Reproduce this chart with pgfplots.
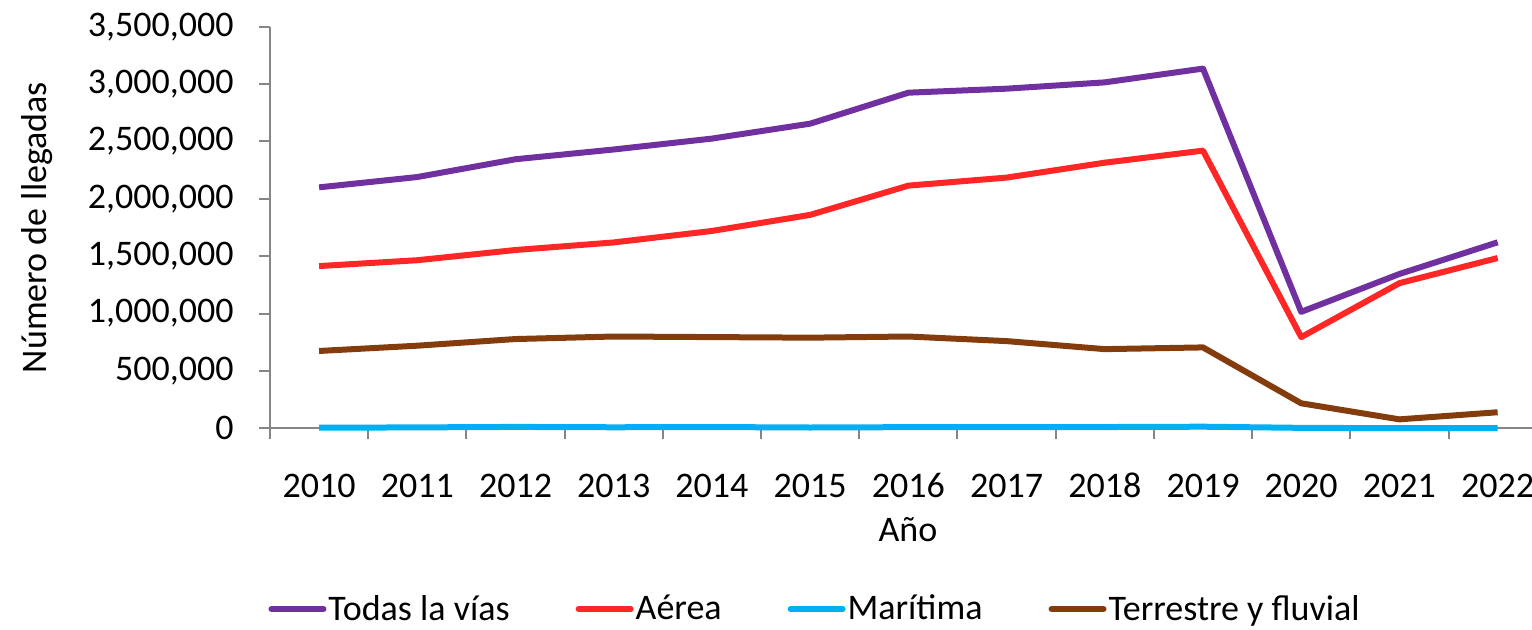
\documentclass[border=0pt]{standalone}
\usepackage{fontspec}
\setmainfont{Carlito}
\usepackage{pgfplots}
\pgfplotsset{compat=1.18}
\definecolor{cTodas}{RGB}{112,48,160}
\definecolor{cAerea}{RGB}{255,38,38}
\definecolor{cMar}{RGB}{0,176,240}
\definecolor{cTer}{RGB}{132,60,12}
\definecolor{axgray}{RGB}{134,134,134}
\begin{document}
\begin{tikzpicture}
\useasboundingbox (0,0) rectangle (766pt,314.5pt);
\begin{axis}[
 at={(135pt,100.35pt)}, anchor=south west,
 scale only axis, width=631pt, height=200.8pt,
 xmin=-0.5, xmax=12.35, ymin=0, ymax=3500000,
 clip=false,
 axis x line=bottom, axis y line=left,
 axis line style={-, draw=axgray, line width=1pt},
 tick style={draw=axgray, line width=1pt},
 tick align=outside,
 major tick length=5.5pt, minor tick length=5.5pt,
 xtick={0,1,2,3,4,5,6,7,8,9,10,11,12},
 xticklabels={2010,2011,2012,2013,2014,2015,2016,2017,2018,2019,2020,2021,2022},
 minor xtick={-0.5,0.5,1.5,2.5,3.5,4.5,5.5,6.5,7.5,8.5,9.5,10.5,11.5},
 major x tick style={draw=none},
 ytick={0,500000,1000000,1500000,2000000,2500000,3000000,3500000},
 scaled y ticks=false,
 /pgf/number format/.cd, fixed, 1000 sep={,}, assume math mode=true, /pgfplots/.cd,
 tick label style={font=\fontsize{18}{21}\selectfont, text=black},
 xticklabel style={anchor=base, inner sep=0pt, yshift=-29pt},
 yticklabel style={anchor=east, inner sep=0pt, xshift=-12.5pt},
 xlabel={Año}, ylabel={Número de llegadas},
 every axis x label/.style={at={(axis description cs:0.5055,-0.2532)}, anchor=center, font=\fontsize{18}{21}\selectfont},
 every axis y label/.style={at={(axis description cs:-0.1846,0.5)}, rotate=90, anchor=center, font=\fontsize{18}{21}\selectfont},
 legend columns=4,
 legend style={at={(axis description cs:0.4319,-0.45)}, anchor=center, draw=none, fill=none,
   font=\fontsize{18}{21}\selectfont, nodes={inner xsep=1pt},
   /tikz/every even column/.append style={column sep=32pt}},
 legend image code/.code={\draw[#1, line width=3pt, line cap=round] (0pt,0pt) -- (26pt,0pt);},
]
\addplot[cTodas, line width=3pt, line join=round] coordinates {
(0,2100000)(1,2190000)(2,2345000)(3,2430000)(4,2525000)(5,2655000)(6,2925000)(7,2960000)(8,3015000)(9,3135000)(10,1015000)(11,1345000)(12,1621000)};
\addlegendentry{Todas la vías}
\addplot[cAerea, line width=3pt, line join=round] coordinates {
(0,1414000)(1,1465000)(2,1554000)(3,1620000)(4,1720000)(5,1860000)(6,2115000)(7,2185000)(8,2315000)(9,2420000)(10,795000)(11,1265000)(12,1484000)};
\addlegendentry{Aérea}
\addplot[cMar, line width=3pt, line join=round] coordinates {
(0,5000)(1,8000)(2,12000)(3,9000)(4,11000)(5,7000)(6,10000)(7,10000)(8,11000)(9,14000)(10,4000)(11,1000)(12,2000)};
\addlegendentry{Marítima}
\addplot[cTer, line width=3pt, line join=round] coordinates {
(0,674000)(1,720000)(2,778000)(3,800000)(4,795000)(5,790000)(6,800000)(7,760000)(8,690000)(9,705000)(10,218000)(11,78000)(12,140000)};
\addlegendentry{Terrestre y fluvial}
\end{axis}
\end{tikzpicture}
\end{document}
